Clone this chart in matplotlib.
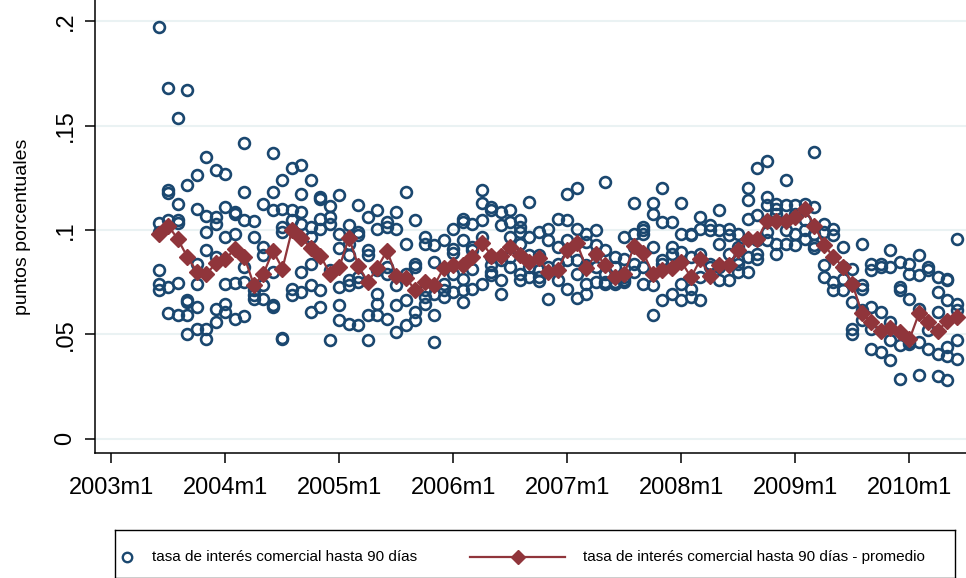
import numpy as np
import matplotlib
matplotlib.use("Agg")
from matplotlib import pyplot as plt
from matplotlib.lines import Line2D

plt.rcParams['font.family'] = ['Liberation Sans', 'DejaVu Sans']

# months counted from 2003m1 = 0
meses = list(range(5, 90))

# monthly rates reported by each bank (puntos porcentuales)
tasas = [
    [0.1975, 0.1034, 0.0992, 0.0807, 0.0743, 0.0711],
    [0.1682, 0.1190, 0.1178, 0.1047, 0.0727, 0.0602],
    [0.1538, 0.1124, 0.1047, 0.1035, 0.0746, 0.0591],
    [0.1671, 0.1218, 0.0663, 0.0655, 0.0591, 0.0503],
    [0.1263, 0.1103, 0.0839, 0.0743, 0.0631, 0.0527],
    [0.1351, 0.1066, 0.0990, 0.0903, 0.0527, 0.0479],
    [0.1287, 0.1063, 0.1028, 0.0871, 0.0623, 0.0559],
    [0.1270, 0.1108, 0.0967, 0.0743, 0.0647, 0.0607],
    [0.1087, 0.1075, 0.0983, 0.0746, 0.0575],
    [0.1415, 0.1183, 0.1047, 0.0823, 0.0751, 0.0586],
    [0.1044, 0.0964, 0.0711, 0.0687, 0.0671],
    [0.1127, 0.0919, 0.0879, 0.0735, 0.0671],
    [0.1367, 0.1183, 0.1095, 0.0799, 0.0639, 0.0631],
    [0.1239, 0.1103, 0.1015, 0.0990, 0.0484, 0.0475],
    [0.1295, 0.1095, 0.1047, 0.0719, 0.0687],
    [0.1311, 0.1172, 0.1087, 0.1031, 0.0799, 0.0703],
    [0.1239, 0.1015, 0.0967, 0.0839, 0.0735, 0.0607],
    [0.1159, 0.1150, 0.1055, 0.1007, 0.0711, 0.0631],
    [0.1114, 0.1063, 0.1031, 0.0807, 0.0471],
    [0.1167, 0.0983, 0.0916, 0.0727, 0.0639, 0.0567],
    [0.1023, 0.0935, 0.0879, 0.0759, 0.0735, 0.0551],
    [0.1119, 0.0991, 0.0975, 0.0775, 0.0751, 0.0543],
    [0.1063, 0.0903, 0.0879, 0.0591, 0.0471],
    [0.1095, 0.1007, 0.0807, 0.0695, 0.0647, 0.0591],
    [0.1039, 0.1015, 0.0823, 0.0791, 0.0575],
    [0.1087, 0.1007, 0.0735, 0.0639, 0.0511],
    [0.1183, 0.0935, 0.0791, 0.0663, 0.0543],
    [0.1050, 0.0839, 0.0823, 0.0607, 0.0567],
    [0.0967, 0.0935, 0.0711, 0.0679, 0.0647],
    [0.0927, 0.0847, 0.0695, 0.0591, 0.0463],
    [0.0951, 0.0743, 0.0711, 0.0679],
    [0.1007, 0.0911, 0.0890, 0.0791, 0.0703],
    [0.1055, 0.1039, 0.0951, 0.0767, 0.0711, 0.0655],
    [0.1031, 0.0919, 0.0903, 0.0815, 0.0719],
    [0.1191, 0.1130, 0.1047, 0.0967, 0.0743],
    [0.1111, 0.1095, 0.0871, 0.0831, 0.0799, 0.0783],
    [0.1087, 0.1023, 0.0855, 0.0759, 0.0695],
    [0.1095, 0.1039, 0.0967, 0.0871, 0.0823],
    [0.1047, 0.1015, 0.0991, 0.0935, 0.0791, 0.0759],
    [0.1135, 0.0967, 0.0879, 0.0823, 0.0775],
    [0.0991, 0.0879, 0.0807, 0.0775, 0.0755],
    [0.1007, 0.0951, 0.0823, 0.0671],
    [0.1055, 0.0919, 0.0839, 0.0759],
    [0.1172, 0.1047, 0.0951, 0.0855, 0.0719],
    [0.1199, 0.1007, 0.0855, 0.0791, 0.0674],
    [0.0983, 0.0943, 0.0831, 0.0743, 0.0695],
    [0.0999, 0.0927, 0.0887, 0.0823, 0.0751],
    [0.1231, 0.0903, 0.0791, 0.0751, 0.0743],
    [0.0871, 0.0823, 0.0775, 0.0751, 0.0743],
    [0.0967, 0.0863, 0.0775, 0.0759, 0.0751],
    [0.1130, 0.0983, 0.0919, 0.0839, 0.0799],
    [0.1015, 0.0999, 0.0983, 0.0823, 0.0743],
    [0.1130, 0.1079, 0.0919, 0.0735, 0.0591],
    [0.1199, 0.1039, 0.0855, 0.0839, 0.0663],
    [0.1039, 0.0919, 0.0887, 0.0695],
    [0.1130, 0.0983, 0.0895, 0.0743, 0.0663],
    [0.0983, 0.0975, 0.0871, 0.0719, 0.0679],
    [0.1060, 0.1007, 0.0887, 0.0775, 0.0663],
    [0.1023, 0.1000, 0.0839, 0.0823],
    [0.1098, 0.0999, 0.0935, 0.0823, 0.0759],
    [0.1007, 0.0975, 0.0887, 0.0759],
    [0.0983, 0.0919, 0.0855, 0.0839, 0.0799],
    [0.1199, 0.1146, 0.1055, 0.0871, 0.0799],
    [0.1295, 0.1071, 0.0951, 0.0887, 0.0863],
    [0.1332, 0.1159, 0.1119, 0.0991, 0.0951],
    [0.1127, 0.1103, 0.1079, 0.0935, 0.0887],
    [0.1239, 0.1119, 0.0999, 0.0935],
    [0.1119, 0.1079, 0.0983, 0.0927],
    [0.1127, 0.1047, 0.0999, 0.0959],
    [0.1375, 0.1108, 0.0983, 0.0927, 0.0915],
    [0.1028, 0.0991, 0.0831, 0.0775],
    [0.1007, 0.0975, 0.0751, 0.0711],
    [0.0919, 0.0823, 0.0767, 0.0714],
    [0.0815, 0.0743, 0.0655, 0.0527, 0.0503],
    [0.0935, 0.0735, 0.0719, 0.0615, 0.0567],
    [0.0839, 0.0807, 0.0631, 0.0527, 0.0431],
    [0.0839, 0.0823, 0.0607, 0.0415],
    [0.0906, 0.0823, 0.0559, 0.0471, 0.0375],
    [0.0847, 0.0727, 0.0711, 0.0447, 0.0287],
    [0.0839, 0.0791, 0.0671, 0.0463, 0.0455],
    [0.0879, 0.0783, 0.0623, 0.0463, 0.0303],
    [0.0823, 0.0807, 0.0519, 0.0431],
    [0.0775, 0.0703, 0.0607, 0.0407, 0.0298],
    [0.0767, 0.0759, 0.0663, 0.0439, 0.0394, 0.0282],
    [0.0959, 0.0647, 0.0615, 0.0471, 0.0383],
]

# monthly average
promedio = [
    0.098, 0.102, 0.0955, 0.087, 0.080, 0.079, 0.084, 0.086, 0.091, 0.087,
    0.0735, 0.079, 0.090, 0.0815, 0.100, 0.096, 0.0915, 0.0877, 0.079, 0.0824,
    0.0963, 0.0827, 0.075, 0.082, 0.090, 0.078, 0.077, 0.071, 0.075, 0.0736,
    0.082, 0.083, 0.083, 0.087, 0.094, 0.0877, 0.0877, 0.0917, 0.088, 0.0845,
    0.0864, 0.080, 0.081, 0.0905, 0.0936, 0.0816, 0.0885, 0.0832, 0.0773, 0.079,
    0.0923, 0.0888, 0.0789, 0.0808, 0.0816, 0.0848, 0.0773, 0.0859, 0.0779, 0.0832,
    0.0832, 0.0904, 0.0955, 0.0955, 0.1045, 0.1045, 0.1045, 0.1064, 0.110, 0.102,
    0.093, 0.087, 0.0824, 0.074, 0.060, 0.056, 0.0516, 0.0528, 0.051, 0.0476,
    0.060, 0.056, 0.0517, 0.0565, 0.0584,
]

tick_meses = [0, 12, 24, 36, 48, 60, 72, 84]
tick_labels = ['2003m1', '2004m1', '2005m1', '2006m1', '2007m1', '2008m1', '2009m1', '2010m1']
y_ticks = [0, 0.05, 0.1, 0.15, 0.2]
y_labels = ['0', '.05', '.1', '.15', '.2']

azul = '#1a476f'
rojo = '#90353b'

fig = plt.figure(figsize=(9.66, 5.78), dpi=100)
ax = fig.add_axes([95.3/966, 125/578, (966-95.3)/966, 453/578])

xs = np.concatenate([[m]*len(t) for m, t in zip(meses, tasas)])
ys = np.concatenate(tasas)
ax.plot(xs, ys, 'o', ls='none', mfc='none', mec=azul, ms=7.8, mew=1.9, zorder=3)
ax.plot(meses, promedio, '-D', color=rojo, lw=1.6, ms=7.8, zorder=4)

ax.set_xlim(-1.7, 89.95)
ax.set_ylim(-0.00695, 0.2103)
ax.set_xticks(tick_meses)
ax.set_xticklabels(tick_labels)
ax.set_yticks(y_ticks)
ax.set_yticklabels(y_labels, rotation=90, va='center')
ax.tick_params(axis='both', labelsize=17, length=7.5, width=1.1, pad=6)
ax.tick_params(axis='x', pad=10)
ax.set_ylabel('puntos porcentuales', fontsize=14)
ax.yaxis.set_label_coords(-64/870.7, 0.5)
ax.grid(axis='y', color='#eaf2f3', lw=1.5, zorder=0)
ax.set_axisbelow(True)
for s in ['top', 'right']:
    ax.spines[s].set_visible(False)
for s in ['left', 'bottom']:
    ax.spines[s].set_linewidth(1.1)

# legend box drawn in pixel-like units
lg = fig.add_axes([115/966, 0.5/578, 840/966, 47.5/578])
lg.set_xlim(0, 840)
lg.set_ylim(0, 48)
lg.set_xticks([])
lg.set_yticks([])
for s in lg.spines.values():
    s.set_linewidth(1.0)
lg.add_line(Line2D([12], [21], marker='o', ls='none', mfc='none', mec=azul, ms=6.8, mew=1.7))
lg.text(37, 21, 'tasa de interés comercial hasta 90 días', fontsize=11, va='center')
lg.add_line(Line2D([355, 450], [21, 21], color=rojo, lw=1.6))
lg.add_line(Line2D([403], [21], marker='D', color=rojo, ms=7.5))
lg.text(468, 21, 'tasa de interés comercial hasta 90 días - promedio', fontsize=11, va='center')

fig.savefig('out.png', dpi=100)
